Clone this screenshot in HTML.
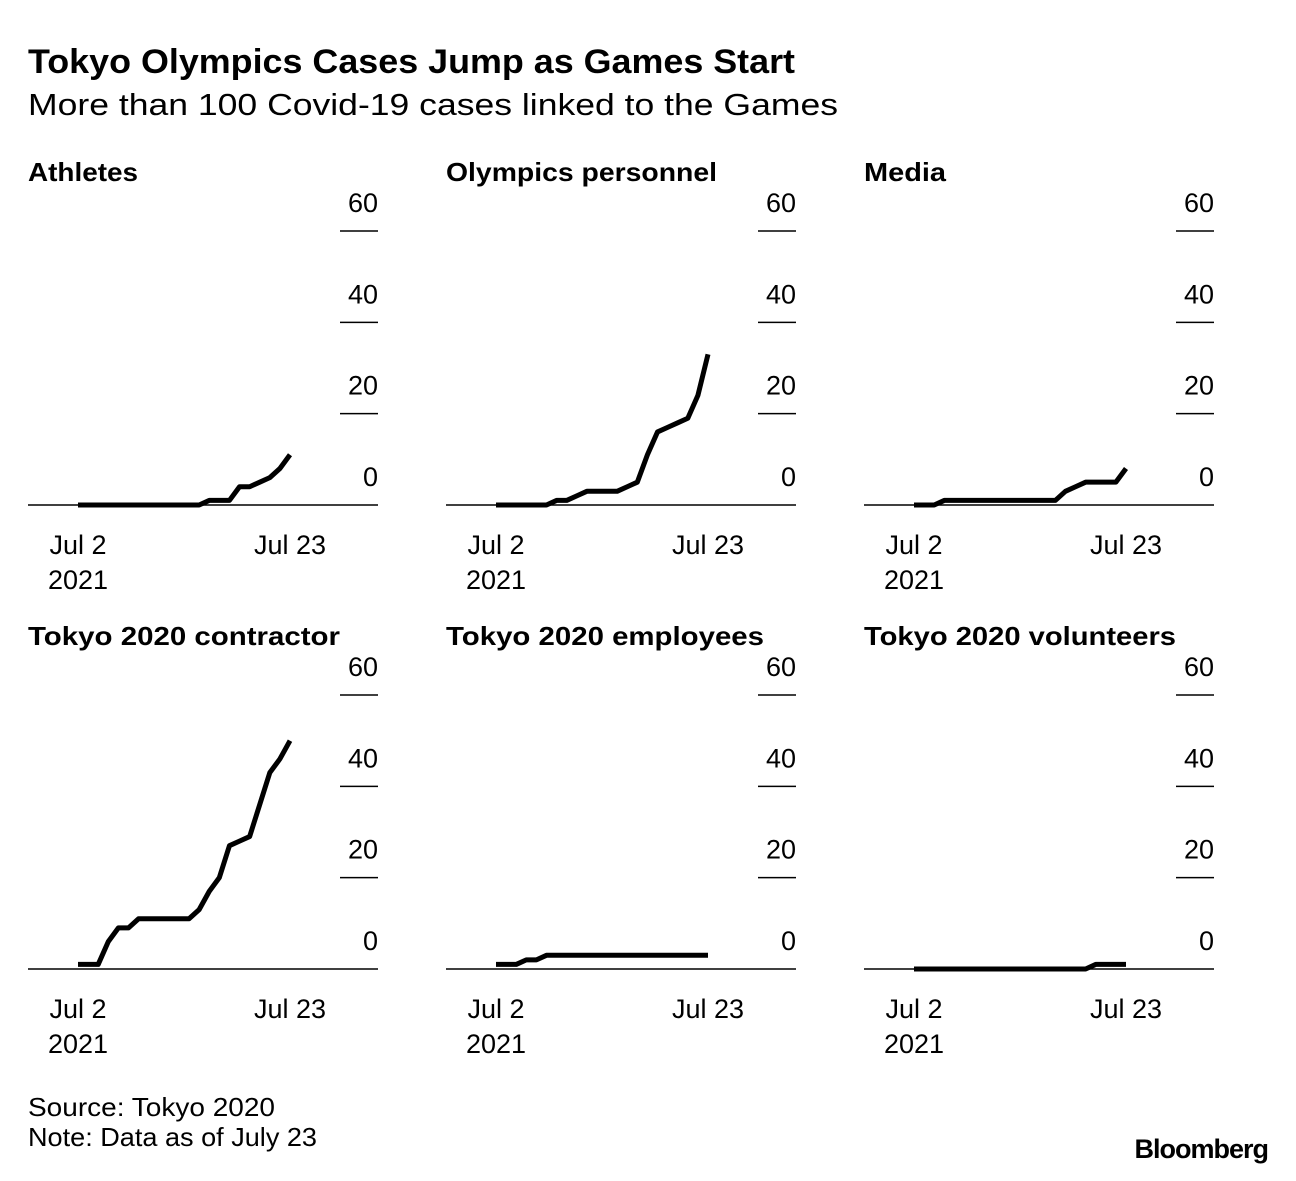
<!DOCTYPE html>
<html><head><meta charset="utf-8"><style>
body{margin:0;background:#fff;width:1296px;height:1176px;overflow:hidden;font-family:"Liberation Sans",sans-serif}
svg text{font-family:"Liberation Sans",sans-serif}
</style></head><body>
<svg id="c" width="1296" height="1176">
<text x="28" y="73" font-size="34" font-weight="bold" textLength="767" lengthAdjust="spacingAndGlyphs">Tokyo Olympics Cases Jump as Games Start</text>
<text x="28" y="115" font-size="31" textLength="810" lengthAdjust="spacingAndGlyphs">More than 100 Covid-19 cases linked to the Games</text>
<text x="28" y="1116" font-size="26" textLength="247" lengthAdjust="spacingAndGlyphs">Source: Tokyo 2020</text>
<text x="28" y="1146" font-size="26" textLength="289" lengthAdjust="spacingAndGlyphs">Note: Data as of July 23</text>
<text x="1268" y="1158" font-size="27" font-weight="bold" text-anchor="end" letter-spacing="-1">Bloomberg</text>
</svg>
<script>
const titles=["Athletes","Olympics personnel","Media","Tokyo 2020 contractor","Tokyo 2020 employees","Tokyo 2020 volunteers"];
const titleLens=[110,271,82,312,318,312];
const yTicks=[0,20,40,60];
const xTickLabels=["Jul 2","Jul 23"];
const athletes=[0,0,0,0,0,0,0,0,0,0,0,0,0,1,1,1,4,4,5,6,8,11];
const personnel=[0,0,0,0,0,1,1,2,3,3,3,3,4,5,11,16,17,18,19,24,33];
const media=[0,0,0,1,1,1,1,1,1,1,1,1,1,1,1,3,4,5,5,5,5,8];
const contractor=[1,1,1,6,9,9,11,11,11,11,11,11,13,17,20,27,28,29,36,43,46,50];
const employees=[1,1,1,2,2,3,3,3,3,3,3,3,3,3,3,3,3,3,3,3,3,3];
const volunteers=[0,0,0,0,0,0,0,0,0,0,0,0,0,0,0,0,0,0,1,1,1,1];
const series=[athletes,[0,...personnel],media,contractor,employees,volunteers];
const svg=document.getElementById('c');const NS='http://www.w3.org/2000/svg';
function mk(t,a){const e=document.createElementNS(NS,t);for(const k in a)e.setAttribute(k,a[k]);svg.appendChild(e);return e;}
series.forEach((d,i)=>{
 const ox=28+(i%3)*418, base=i<3?505:969;
 const xs=n=>ox+50+n*(212/21), ys=v=>base-v*(274/60);
 let e=mk('text',{x:ox,y:base-324,'font-size':26,'font-weight':'bold',textLength:titleLens[i],lengthAdjust:'spacingAndGlyphs'});e.textContent=titles[i];
 
 
 yTicks.forEach(v=>{
  const y=ys(v);
  if(v>0){const l=mk('line',{x1:ox+312,x2:ox+350,y1:y,y2:y,stroke:'#000','stroke-width':1.5});
   
   }
  const t=mk('text',{x:ox+350,y:y-19,'font-size':27,'text-anchor':'end'});t.textContent=v;
  
  
 });
 const b=mk('line',{x1:ox,x2:ox+350,y1:base,y2:base,stroke:'#000','stroke-width':1.5});
 
 
 [[0,xTickLabels[0]],[21,xTickLabels[1]]].forEach(([n,s])=>{
  const t=mk('text',{x:xs(n),y:base+49,'font-size':27,'text-anchor':'middle'});t.textContent=s;
  
  
 });
 const yr=mk('text',{x:xs(0),y:base+84,'font-size':27,'text-anchor':'middle'});yr.textContent='2021';
 
 
 const p=mk('polyline',{points:d.map((v,n)=>xs(n)+','+ys(v)).join(' '),fill:'none',stroke:'#000','stroke-width':5,'stroke-linejoin':'round'});
 
 
});
</script>
</body></html>
